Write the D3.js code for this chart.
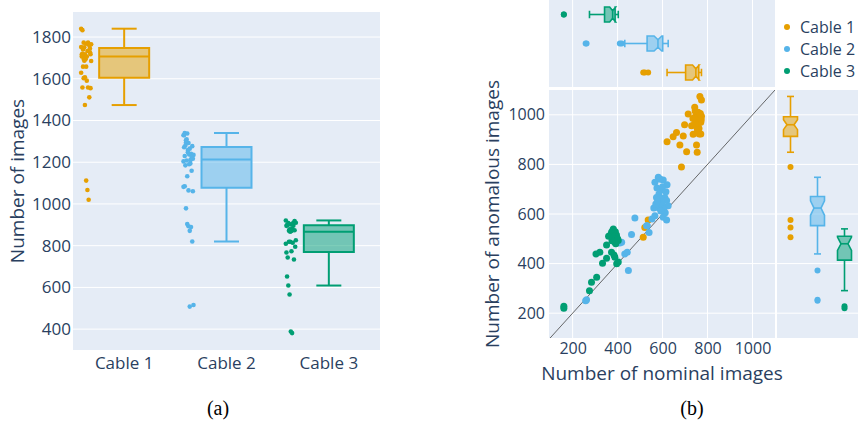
<!DOCTYPE html>
<html>
<head>
<meta charset="utf-8">
<script src="https://cdn.jsdelivr.net/npm/d3@7"></script>
<style>
  body { margin: 0; background: #fff; }
  svg { display: block; font-family: "Open Sans", sans-serif; }
</style>
</head>
<body>
<div id="chart"></div>
<script>
// categories and colours
const cables = ["Cable 1", "Cable 2", "Cable 3"];
const colors = ["#E69F00", "#56B4E9", "#009E73"];

// nominal / anomalous image counts per recording
const nominal1 = [766, 773, 743, 714, 758, 743, 773, 751, 729, 751, 736, 763, 770, 662, 647, 620, 677, 751, 707, 754,
                  684, 536, 521, 514, 760, 765, 748, 770, 756, 740, 762, 768, 745, 758, 772, 735, 755, 692, 698];
const anomalous1 = [1074, 1060, 1030, 1003, 1010, 990, 994, 976, 956, 956, 922, 923, 923, 929, 911, 891, 878, 878, 851, 849,
                    790, 576, 546, 506, 985, 1000, 968, 970, 995, 960, 945, 1005, 1015, 960, 980, 985, 940, 915, 960];

const nominal2 = [581, 603, 566, 620, 595, 584, 573, 610, 581, 618, 561, 584, 625, 603, 618, 566, 477, 529, 532, 462,
                  418, 410, 432, 443, 448, 262, 590, 575, 600, 588, 597, 570, 605, 612, 592, 578, 615, 553, 540, 258];
const anomalous2 = [748, 737, 728, 718, 697, 681, 667, 667, 654, 654, 624, 624, 633, 587, 576, 593, 584, 553, 553, 517,
                    486, 483, 439, 446, 372, 254, 740, 705, 710, 660, 640, 640, 620, 605, 612, 652, 690, 580, 525, 250];

const nominal3 = [381, 373, 388, 366, 396, 381, 403, 388, 351, 321, 304, 373, 384, 351, 388, 333, 396, 403, 307, 284,
                  275, 161, 161, 378, 390, 395, 385, 400, 392, 375, 360];
const anomalous3 = [540, 526, 520, 513, 506, 500, 493, 486, 475, 446, 439, 446, 435, 422, 426, 401, 399, 406, 345, 325,
                    291, 228, 220, 532, 528, 515, 510, 500, 480, 492, 510];

// tick labels
const totalTicks = [400, 600, 800, 1000, 1200, 1400, 1600, 1800];
const countTicks = [200, 400, 600, 800, 1000];

const nominal = [nominal1, nominal2, nominal3];
const anomalous = [anomalous1, anomalous2, anomalous3];

const ink = "#2a3f5f", bg = "#E5ECF6";

const svg = d3.select("#chart").append("svg")
    .attr("width", 858)
    .attr("height", 421);

// quartiles, whiskers (1.5 IQR), outliers and notch size like plotly
function boxStats(vals) {
    const s = vals.slice().sort(d3.ascending);
    const q1 = d3.quantileSorted(s, 0.25), med = d3.quantileSorted(s, 0.5), q3 = d3.quantileSorted(s, 0.75);
    const iqr = q3 - q1;
    const lo = d3.min(s.filter(v => v >= q1 - 1.5 * iqr));
    const hi = d3.max(s.filter(v => v <= q3 + 1.5 * iqr));
    return {
        q1, med, q3, lo, hi,
        out: s.filter(v => v < lo || v > hi),
        notch: 1.57 * iqr / Math.sqrt(s.length)
    };
}

// pt(value, offset) -> [x, y]; works for both orientations
function drawBox(g, st, pt, half, color, notched, sw) {
    const line = d3.line();
    let outline;
    if (notched) {
        const nLo = st.med - st.notch, nHi = st.med + st.notch, nw = half * 0.5;
        outline = [pt(st.q1, -half), pt(nLo, -half), pt(st.med, -nw), pt(nHi, -half), pt(st.q3, -half),
                   pt(st.q3, half), pt(nHi, half), pt(st.med, nw), pt(nLo, half), pt(st.q1, half)];
    } else {
        outline = [pt(st.q1, -half), pt(st.q3, -half), pt(st.q3, half), pt(st.q1, half)];
    }
    const m = notched ? half * 0.5 : half;
    const segs = [
        [pt(st.med, -m), pt(st.med, m)],
        [pt(st.q1, 0), pt(st.lo, 0)],
        [pt(st.q3, 0), pt(st.hi, 0)],
        [pt(st.lo, -half / 2), pt(st.lo, half / 2)],
        [pt(st.hi, -half / 2), pt(st.hi, half / 2)]
    ];
    g.append("path")
        .attr("d", line(outline) + "Z")
        .attr("fill", color)
        .attr("fill-opacity", 0.5)
        .attr("stroke", color)
        .attr("stroke-width", sw);
    g.selectAll(null).data(segs).join("path")
        .attr("d", d => line(d))
        .attr("fill", "none")
        .attr("stroke", color)
        .attr("stroke-width", sw);
}

function styleTicks(g, size) {
    g.select(".domain").remove();
    g.selectAll("text")
        .attr("fill", ink)
        .attr("font-size", size)
        .attr("font-family", "Open Sans, sans-serif");
}

// ---------------- (a) total images per cable ----------------
const A = { left: 73, right: 380, top: 12, bottom: 350 };
const xA = d3.scaleBand().domain(cables).range([A.left, A.right]);
const yA = d3.scaleLinear().domain([300, 1920]).range([A.bottom, A.top]);

svg.append("rect")
    .attr("x", A.left).attr("y", A.top)
    .attr("width", A.right - A.left).attr("height", A.bottom - A.top)
    .attr("fill", bg);

svg.append("g")
    .selectAll("line").data(totalTicks).join("line")
    .attr("x1", A.left).attr("x2", A.right)
    .attr("y1", d => yA(d)).attr("y2", d => yA(d))
    .attr("stroke", "#fff");

svg.append("g")
    .attr("transform", `translate(${A.left},0)`)
    .call(d3.axisLeft(yA).tickValues(totalTicks).tickFormat(d3.format("d")).tickSize(0).tickPadding(2))
    .call(g => styleTicks(g, 17));

svg.append("g")
    .attr("transform", `translate(0,${A.bottom})`)
    .call(d3.axisBottom(xA).tickSize(0).tickPadding(7))
    .call(g => styleTicks(g, 17));

svg.append("text")
    .attr("transform", `translate(24,${(A.top + A.bottom) / 2}) rotate(-90)`)
    .attr("text-anchor", "middle")
    .attr("fill", ink)
    .attr("font-size", 19)
    .text("Number of images");

cables.forEach((c, i) => {
    const totals = nominal[i].map((n, k) => n + anomalous[i][k]);
    const cx = xA(c) + xA.bandwidth() / 2;
    const g = svg.append("g");
    drawBox(g, boxStats(totals), (v, o) => [cx + o, yA(v)], 25, colors[i], false, 2);
    // all points, jittered to the left of the box
    g.selectAll("circle").data(totals).join("circle")
        .attr("cx", (d, k) => cx - 38 + (((k * 53) % 17) / 16 - 0.5) * 10)
        .attr("cy", d => yA(d))
        .attr("r", 2.3)
        .attr("fill", colors[i]);
});

// ---------------- (b) nominal vs anomalous ----------------
const B = { left: 549, right: 775, top: 90, bottom: 338 };
const T = { top: 0, bottom: 87 };        // top marginal boxes
const R = { left: 777, right: 858 };     // right marginal boxes
const xB = d3.scaleLinear().domain([95, 1100]).range([B.left, B.right]);
const yB = d3.scaleLinear().domain([100, 1100]).range([B.bottom, B.top]);
const rowT = d3.scaleBand().domain(cables.slice().reverse()).range([T.top, T.bottom]);
const colR = d3.scaleBand().domain(cables).range([R.left, R.right]);

// panel backgrounds
svg.append("rect").attr("x", B.left).attr("y", B.top)
    .attr("width", B.right - B.left).attr("height", B.bottom - B.top).attr("fill", bg);
svg.append("rect").attr("x", B.left).attr("y", T.top)
    .attr("width", B.right - B.left).attr("height", T.bottom - T.top).attr("fill", bg);
svg.append("rect").attr("x", R.left).attr("y", B.top)
    .attr("width", R.right - R.left).attr("height", B.bottom - B.top).attr("fill", bg);

// gridlines
const grid = svg.append("g").attr("stroke", "#fff");
grid.selectAll(".gx").data(countTicks).join("line")
    .attr("x1", d => xB(d)).attr("x2", d => xB(d))
    .attr("y1", B.top).attr("y2", B.bottom);
grid.selectAll(".gxt").data(countTicks).join("line")
    .attr("x1", d => xB(d)).attr("x2", d => xB(d))
    .attr("y1", T.top).attr("y2", T.bottom);
grid.selectAll(".gy").data(countTicks).join("line")
    .attr("x1", B.left).attr("x2", B.right)
    .attr("y1", d => yB(d)).attr("y2", d => yB(d));
grid.selectAll(".gyr").data(countTicks).join("line")
    .attr("x1", R.left).attr("x2", R.right)
    .attr("y1", d => yB(d)).attr("y2", d => yB(d));

svg.append("g")
    .attr("transform", `translate(${B.left},0)`)
    .call(d3.axisLeft(yB).tickValues(countTicks).tickFormat(d3.format("d")).tickSize(0).tickPadding(4))
    .call(g => styleTicks(g, 16));

svg.append("g")
    .attr("transform", `translate(0,${B.bottom})`)
    .call(d3.axisBottom(xB).tickValues(countTicks).tickFormat(d3.format("d")).tickSize(0).tickPadding(5))
    .call(g => styleTicks(g, 16));

svg.append("text")
    .attr("transform", `translate(499,${(B.top + B.bottom) / 2}) rotate(-90)`)
    .attr("text-anchor", "middle")
    .attr("fill", ink)
    .attr("font-size", 19)
    .text("Number of anomalous images");

svg.append("text")
    .attr("x", (B.left + B.right) / 2)
    .attr("y", 380)
    .attr("text-anchor", "middle")
    .attr("fill", ink)
    .attr("font-size", 19)
    .text("Number of nominal images");

// y = x reference line
svg.append("clipPath").attr("id", "clipB")
    .append("rect").attr("x", B.left).attr("y", B.top)
    .attr("width", B.right - B.left).attr("height", B.bottom - B.top);
svg.append("line")
    .attr("clip-path", "url(#clipB)")
    .attr("x1", xB(100)).attr("y1", yB(100))
    .attr("x2", xB(1100)).attr("y2", yB(1100))
    .attr("stroke", "#444").attr("stroke-width", 0.8);

cables.forEach((c, i) => {
    const pts = nominal[i].map((n, k) => [n, anomalous[i][k]]);
    svg.append("g").selectAll("circle").data(pts).join("circle")
        .attr("clip-path", "url(#clipB)")
        .attr("cx", d => xB(d[0]))
        .attr("cy", d => yB(d[1]))
        .attr("r", 3.5)
        .attr("fill", colors[i]);

    // top marginal: nominal
    const cy = rowT(c) + rowT.bandwidth() / 2;
    const stT = boxStats(nominal[i]);
    const gT = svg.append("g");
    drawBox(gT, stT, (v, o) => [xB(v), cy + o], 7.5, colors[i], true, 1.6);
    gT.selectAll("circle").data(stT.out).join("circle")
        .attr("cx", d => xB(d)).attr("cy", cy).attr("r", 3).attr("fill", colors[i]);

    // right marginal: anomalous
    const cx = colR(c) + colR.bandwidth() / 2;
    const stR = boxStats(anomalous[i]);
    const gR = svg.append("g");
    drawBox(gR, stR, (v, o) => [cx + o, yB(v)], 7, colors[i], true, 1.6);
    gR.selectAll("circle").data(stR.out).join("circle")
        .attr("cx", cx).attr("cy", d => yB(d)).attr("r", 3).attr("fill", colors[i]);
});

// legend
const legend = svg.append("g").selectAll("g").data(cables).join("g")
    .attr("transform", (d, i) => `translate(787,${27 + i * 22})`);
legend.append("circle").attr("r", 3).attr("fill", (d, i) => colors[i]);
legend.append("text")
    .attr("x", 13).attr("dy", "0.35em")
    .attr("fill", ink)
    .attr("font-size", 16)
    .text(d => d);

// captions
svg.selectAll(".cap").data([["(a)", 218], ["(b)", 692]]).join("text")
    .attr("x", d => d[1]).attr("y", 415)
    .attr("text-anchor", "middle")
    .attr("font-family", "Liberation Serif, Times New Roman, serif")
    .attr("font-size", 20)
    .attr("fill", "#000")
    .text(d => d[0]);
</script>
</body>
</html>
